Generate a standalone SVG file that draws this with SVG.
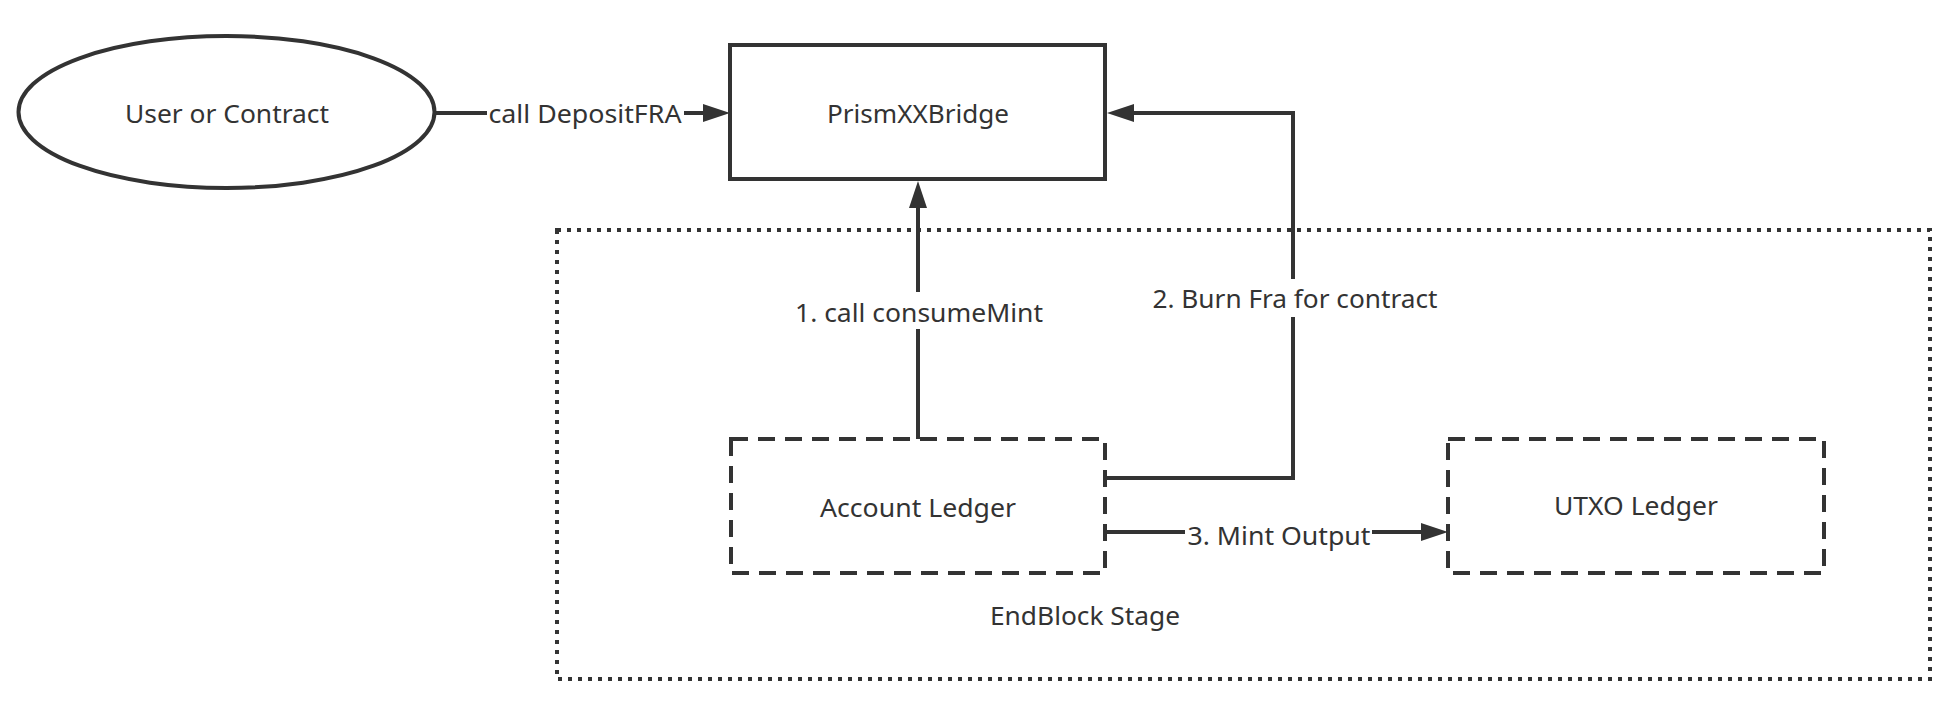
<svg xmlns="http://www.w3.org/2000/svg" width="1953" height="706" viewBox="0 0 1953 706">
<defs>
<style>
.t{font-family:"Noto Sans","Open Sans","DejaVu Sans",sans-serif;font-size:25px;fill:#333;text-anchor:middle}
.solid{fill:#fff;stroke:#333;stroke-width:4}
.dash{fill:#fff;stroke:#333;stroke-width:4;stroke-dasharray:17 10}
.dot{fill:none;stroke:#333;stroke-width:4;stroke-dasharray:4 6}
.ln{fill:none;stroke:#333;stroke-width:4}
.bg{fill:#fff}
</style>
<marker id="arr" viewBox="0 0 27 18" refX="17" refY="9" markerWidth="27" markerHeight="18" markerUnits="userSpaceOnUse" orient="auto">
<path d="M0,0 L27,9 L0,18 z" fill="#333"/>
</marker>
</defs>
<rect width="1953" height="706" fill="#fff"/>
<g id="endblock-stage">
<rect class="dot" x="557" y="230" width="1373" height="449"/>
<text class="t" x="1085" y="625" textLength="190" lengthAdjust="spacingAndGlyphs">EndBlock Stage</text>
</g>
<g id="user-or-contract">
<ellipse class="solid" cx="226.5" cy="112" rx="208" ry="76"/>
<text class="t" x="227" y="123" textLength="204" lengthAdjust="spacingAndGlyphs">User or Contract</text>
</g>
<g id="prism-bridge">
<rect class="solid" x="730" y="45" width="375" height="134"/>
<text class="t" x="918" y="123" textLength="182" lengthAdjust="spacingAndGlyphs">PrismXXBridge</text>
</g>
<g id="account-ledger">
<rect class="dash" x="731" y="439" width="374" height="134"/>
<text class="t" x="918" y="517" textLength="196" lengthAdjust="spacingAndGlyphs">Account Ledger</text>
</g>
<g id="utxo-ledger">
<rect class="dash" x="1448" y="439" width="376" height="134"/>
<text class="t" x="1636" y="515" textLength="164" lengthAdjust="spacingAndGlyphs">UTXO Ledger</text>
</g>
<g id="connectors">
<path class="ln" d="M436,113 L720,113" marker-end="url(#arr)"/>
<rect class="bg" x="487" y="97" width="197" height="34"/>
<text class="t" x="585" y="123" textLength="193" lengthAdjust="spacingAndGlyphs">call DepositFRA</text>
<path class="ln" d="M918,439 L918,191" marker-end="url(#arr)"/>
<rect class="bg" x="794" y="292" width="250" height="37"/>
<text class="t" x="919" y="322" textLength="248" lengthAdjust="spacingAndGlyphs">1. call consumeMint</text>
<path class="ln" d="M1107,478 L1293,478 L1293,113 L1117,113" marker-end="url(#arr)"/>
<rect class="bg" x="1150" y="279" width="289" height="38"/>
<text class="t" x="1295" y="308" textLength="285" lengthAdjust="spacingAndGlyphs">2. Burn Fra for contract</text>
<path class="ln" d="M1107,532 L1438,532" marker-end="url(#arr)"/>
<rect class="bg" x="1185" y="516" width="187" height="36"/>
<text class="t" x="1279" y="545" textLength="183" lengthAdjust="spacingAndGlyphs">3. Mint Output</text>
</g>
</svg>
